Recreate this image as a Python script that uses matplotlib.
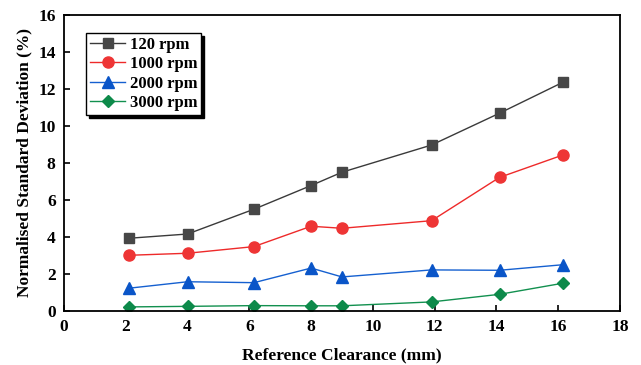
import matplotlib.pyplot as plt

# clearance values (mm)
clearance = [2.1, 4.0, 6.15, 8.0, 9.0, 11.9, 14.1, 16.15]

# normalised standard deviation (%) per speed
rpm_120 = [3.93, 4.16, 5.5, 6.78, 7.5, 8.97, 10.69, 12.36]
rpm_1000 = [3.01, 3.12, 3.48, 4.58, 4.47, 4.88, 7.22, 8.43]
rpm_2000 = [1.23, 1.58, 1.53, 2.32, 1.84, 2.22, 2.2, 2.5]
rpm_3000 = [0.22, 0.25, 0.29, 0.28, 0.28, 0.49, 0.9, 1.5]

labels = ['120 rpm', '1000 rpm', '2000 rpm', '3000 rpm']

plt.rcParams['font.family'] = ['Liberation Serif', 'DejaVu Serif']
plt.rcParams['font.weight'] = 'bold'

fig = plt.figure(figsize=(6.41, 3.65), dpi=100)
ax = fig.add_axes([0.0998, 0.148, 0.8674, 0.811])

ax.plot(clearance, rpm_120, color='#3a3a3a', lw=1, marker='s', ms=6.5,
        mfc='#474747', mec='#474747', label=labels[0])
ax.plot(clearance, rpm_1000, color='#ee2a2a', lw=1, marker='o', ms=8,
        mfc='#ee3535', mec='#ee3535', label=labels[1])
ax.plot(clearance, rpm_2000, color='#1560d0', lw=1, marker='^', ms=8,
        mfc='#0a55c8', mec='#0a55c8', label=labels[2])
ax.plot(clearance, rpm_3000, color='#12904f', lw=1, marker='D', ms=6.5,
        mfc='#0d8a4a', mec='#0d8a4a', label=labels[3])

ax.set_xlim(0, 18)
ax.set_ylim(0, 16)
ax.set_xticks(range(0, 19, 2))
ax.set_yticks(range(0, 17, 2))
ax.tick_params(direction='in', length=4, width=1.2, labelsize=12.5, pad=6)
for lab in ax.get_xticklabels() + ax.get_yticklabels():
    lab.set_fontweight('bold')
for sp in ax.spines.values():
    sp.set_linewidth(1.3)

ax.set_xlabel('Reference Clearance (mm)', fontsize=12.5, fontweight='bold', labelpad=9)
ax.set_ylabel('Normalised Standard Deviation (%)', fontsize=12.5, fontweight='bold', labelpad=4)

leg = ax.legend(loc='upper left', bbox_to_anchor=(0.04, 0.94), fancybox=False,
                shadow={'color': 'black', 'alpha': 1}, edgecolor='black',
                prop={'family': 'Liberation Serif', 'weight': 'bold', 'size': 12},
                handlelength=2.1, labelspacing=0.2, borderpad=0.25,
                borderaxespad=0, handletextpad=0.25)
leg.get_frame().set_linewidth(1)

fig.savefig('out.png', dpi=100)
